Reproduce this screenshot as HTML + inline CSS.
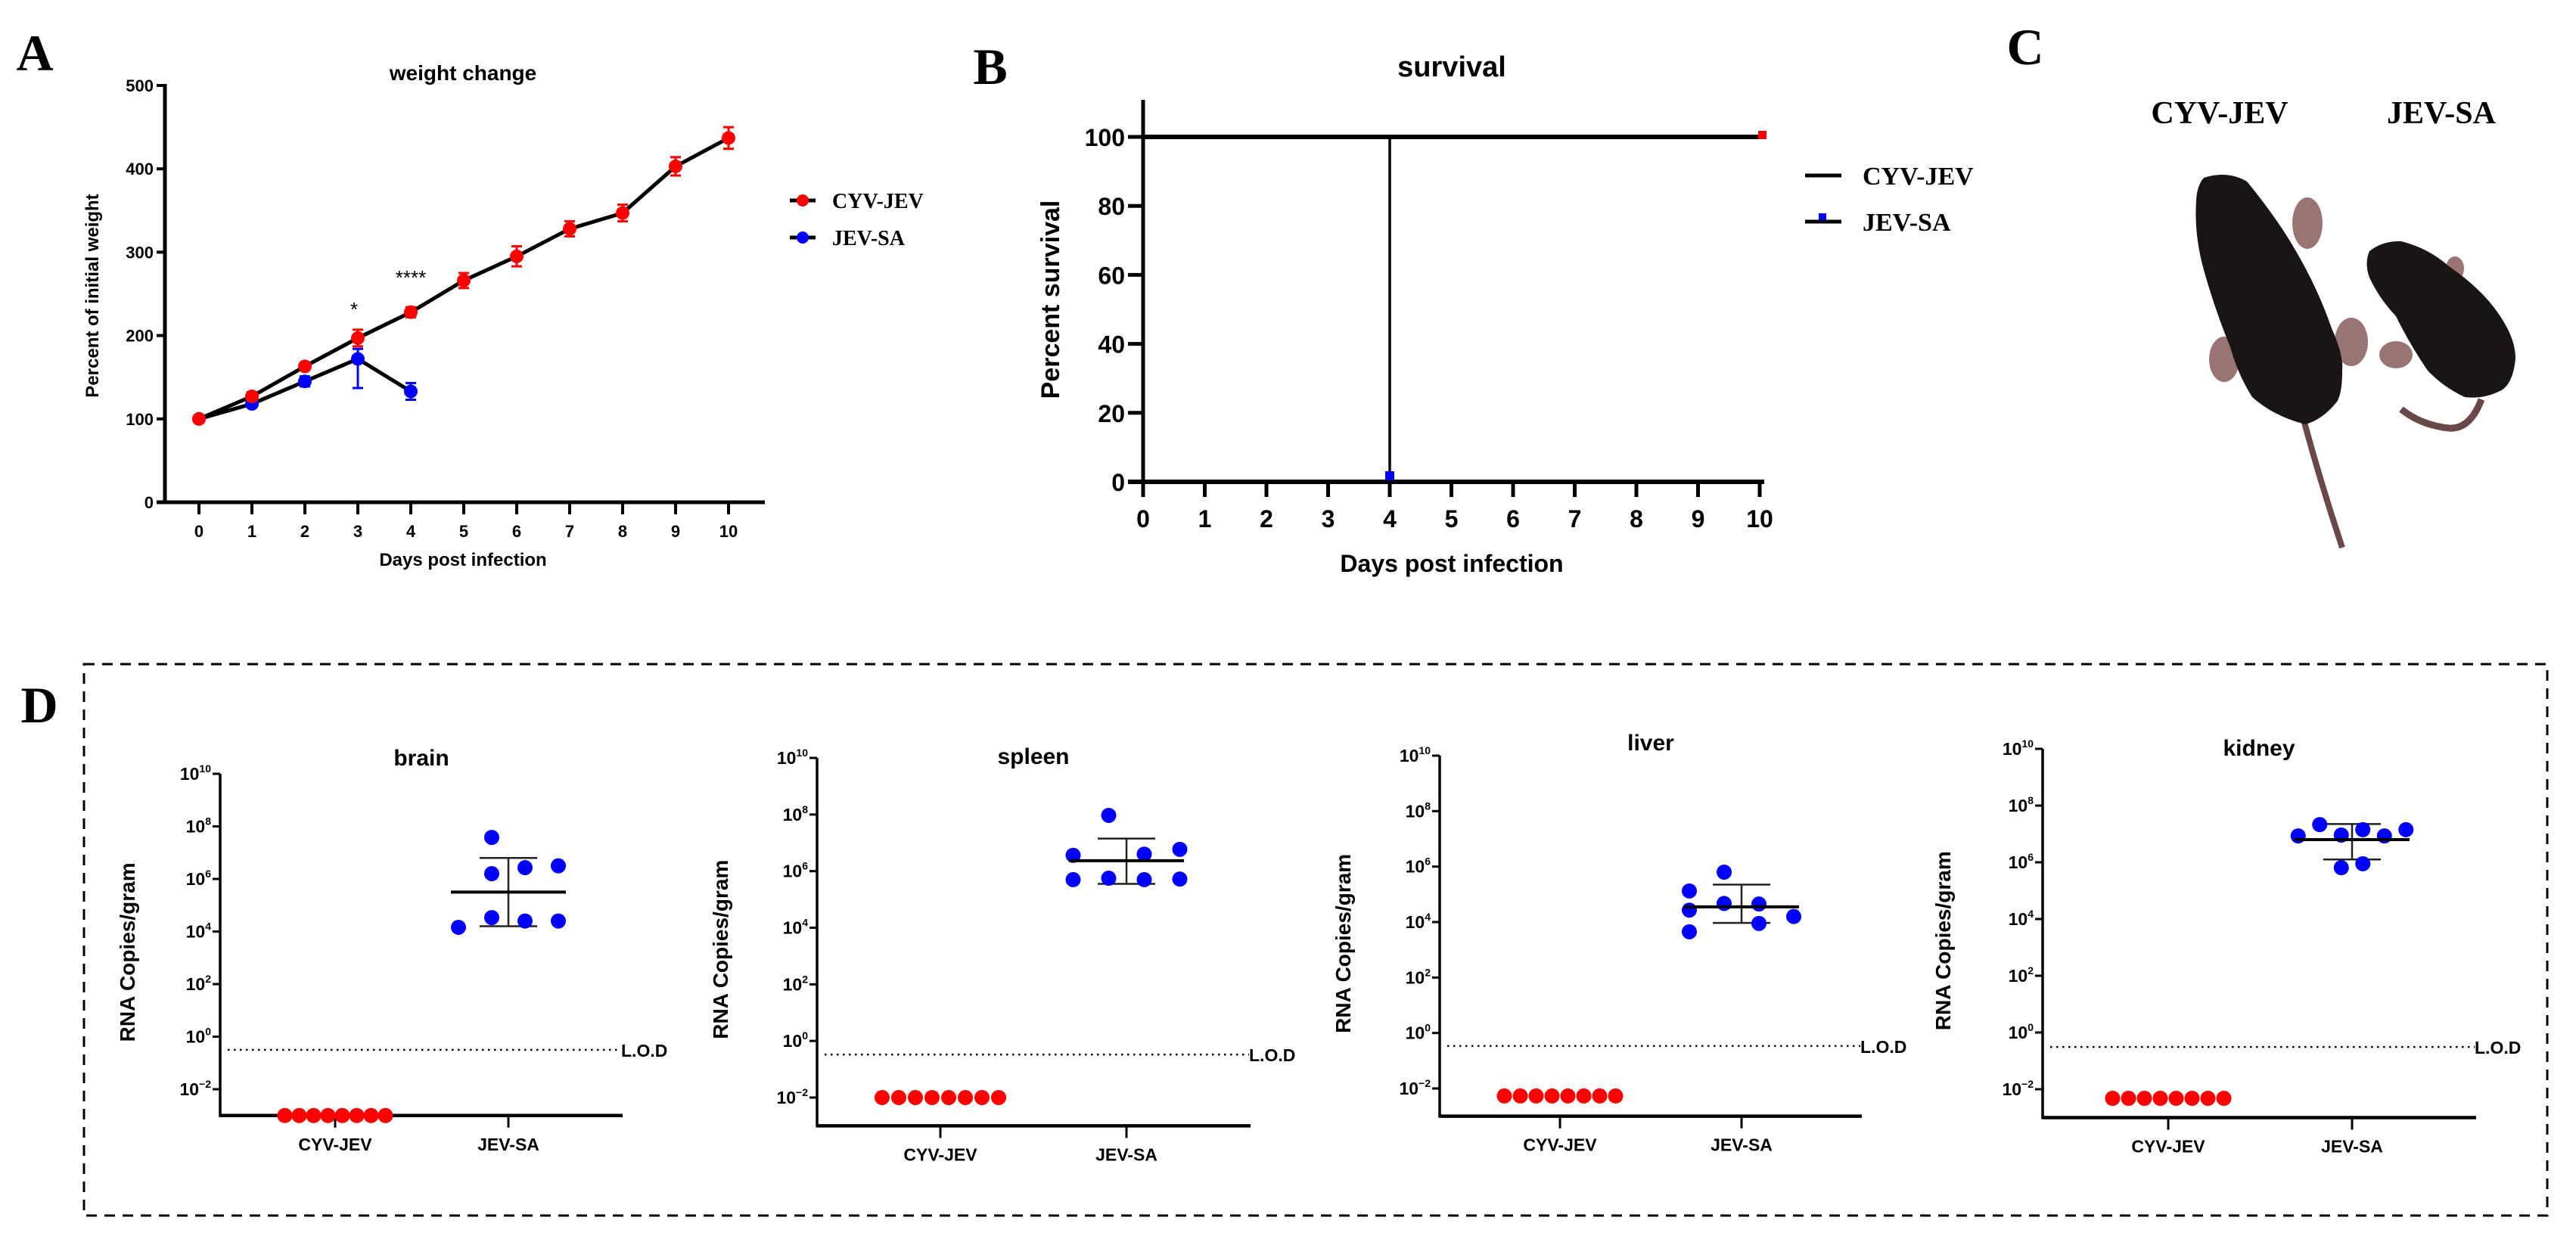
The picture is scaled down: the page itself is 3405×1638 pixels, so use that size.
<!DOCTYPE html>
<html><head><meta charset="utf-8"><style>
html,body{margin:0;padding:0;background:#fff}
svg{display:block}
text{font-family:"Liberation Sans",sans-serif}
.serif{font-family:"Liberation Serif",serif;font-weight:bold}
</style></head><body>
<svg id="fig" width="3405" height="1638" viewBox="0 0 3405 1638" xmlns="http://www.w3.org/2000/svg">
<rect width="3405" height="1638" fill="#fff"/>
<text class="serif" x="46" y="93" font-size="68" text-anchor="middle">A</text>
<text class="serif" x="1309" y="111" font-size="68" text-anchor="middle">B</text>
<text class="serif" x="2677" y="85" font-size="68" text-anchor="middle">C</text>
<text class="serif" x="52" y="955" font-size="68" text-anchor="middle">D</text>
<rect x="111" y="878" width="3256" height="729" fill="none" stroke="#000" stroke-width="3" stroke-dasharray="14,10"/>

<g>
<text class="serif" x="2934" y="163" font-size="42" text-anchor="middle">CYV-JEV</text>
<text class="serif" x="3227" y="163" font-size="42" text-anchor="middle">JEV-SA</text>
<path d="M3045,555 Q3068,640 3096,724" stroke="#6b4848" stroke-width="8" fill="none"/>
<ellipse cx="3050" cy="295" rx="20" ry="34" fill="#9a7474"/>
<ellipse cx="2940" cy="475" rx="20" ry="30" fill="#9a7474"/>
<ellipse cx="3108" cy="452" rx="22" ry="32" fill="#9a7474"/>
<path d="M2913,235 Q2945,225 2970,240 Q2995,270 3019,306 Q3060,370 3082,434 Q3098,470 3096,490 Q3096,520 3089,531 Q3070,555 3047,561 Q3005,550 2977,525 Q2958,495 2948,459 Q2928,410 2913,357 Q2900,310 2903,265 Q2904,245 2913,235Z" fill="#1a1514"/>
<path d="M3280,528 Q3265,568 3237,566 Q3200,562 3174,541" stroke="#6b4848" stroke-width="9" fill="none"/>
<ellipse cx="3167" cy="469" rx="22" ry="18" fill="#9a7474"/>
<ellipse cx="3245" cy="355" rx="12" ry="16" fill="#9a7474"/>
<path d="M3132,332 Q3150,318 3174,319 Q3210,328 3237,352 Q3285,385 3308,423 Q3325,450 3325,474 Q3322,505 3308,515 Q3285,528 3258,525 Q3230,512 3209,490 Q3185,455 3167,418 Q3145,395 3132,367 Q3125,348 3132,332Z" fill="#1a1514"/>
</g>
<g id="charts"></g>
</svg>
<script>
// ---- Panel A data ----
const weightDays = [0,1,2,3,4,5,6,7,8,9,10];
const cyvWeight = [100,127,163,197,228,266,295,328,347,403,437];
const cyvWeightErr = [4,5,4,10,6,9,12,9,10,11,13];
const jevDays = [0,1,2,3,4];
const jevWeight = [100,118,145,172,133];
const jevErrLo = [3,4,6,35,10];
const jevErrHi = [3,4,6,12,10];
const weightTicks = [0,100,200,300,400,500];
// ---- Panel B data ----
const survDaysTicks = [0,1,2,3,4,5,6,7,8,9,10];
const survTicks = [0,20,40,60,80,100];
const cyvSurvDays = [0,10];
const cyvSurv = [100,100];
const jevSurvDays = [0,4,4];
const jevSurv = [100,100,0];
// ---- Panel D data (log10 copies/gram) ----
const tissueNames = ["brain","spleen","liver","kidney"];
const logTicks = [-2,0,2,4,6,8,10];
const lodValues = [-0.5,-0.48,-0.47,-0.51];
const cyvLog = [-3,-2,-2.27,-2.32];
const brainJev = [7.58,6.2,6.43,6.5,4.16,4.53,4.4,4.4];
const brainCol = [1,1,2,3,0,1,2,3];
const spleenJev = [7.97,6.56,6.6,6.77,5.7,5.75,5.7,5.72];
const spleenCol = [1,0,2,3,0,1,2,3];
const liverJev = [5.8,5.12,4.43,4.67,4.65,3.95,4.2,3.65];
const liverCol = [1,0,0,1,2,2,3,0];
const kidneyJev = [6.93,7.33,6.96,7.15,6.93,7.15,5.81,5.95];
const kidneyCol = [0,1,2,3,4,5,2,3];
const jevMeans = [5.5,6.37,4.55,6.8];
const jevSdLo = [4.2,5.55,3.97,6.1];
const jevSdHi = [6.8,7.15,5.35,7.35];

const NS="http://www.w3.org/2000/svg";
const root=document.getElementById('charts');
function mk(tag,attrs,parent,txt){const e=document.createElementNS(NS,tag);for(const k in attrs)e.setAttribute(k,attrs[k]);if(txt!==undefined)e.textContent=txt;(parent||root).appendChild(e);return e;}

// ===== Panel A =====
(function(){
  const g=mk('g',{});
  
  
  const X=d=>263+d*70, Y=v=>664-v*1.102;
  let e;
  e=mk('text',{x:612,y:106,'font-size':28,'font-weight':'bold','text-anchor':'middle'},g,'weight change');
  
  
  e=mk('line',{x1:218,y1:Y(500)-2,x2:218,y2:666,stroke:'#000','stroke-width':5},g);
  
  
  e=mk('line',{x1:207,y1:664,x2:1011,y2:664,stroke:'#000','stroke-width':5},g);
  
  
  weightTicks.forEach(t=>{
    e=mk('line',{x1:207,y1:Y(t),x2:218,y2:Y(t),stroke:'#000','stroke-width':4},g);
    
    
    e=mk('text',{x:203,y:Y(t)+8,'font-size':22,'font-weight':'bold','text-anchor':'end'},g,String(t));
    
    
  });
  weightDays.forEach(d=>{
    e=mk('line',{x1:X(d),y1:664,x2:X(d),y2:680,stroke:'#000','stroke-width':4},g);
    
    
    e=mk('text',{x:X(d),y:710,'font-size':22,'font-weight':'bold','text-anchor':'middle'},g,String(d));
    
    
  });
  e=mk('text',{x:612,y:748,'font-size':24,'font-weight':'bold','text-anchor':'middle'},g,'Days post infection');
  
  
  e=mk('text',{x:0,y:0,'font-size':24,'font-weight':'bold','text-anchor':'middle',transform:'translate(130,391) rotate(-90)'},g,'Percent of initial weight');
  
  
  e=mk('polyline',{points:jevDays.map((d,i)=>X(d)+','+Y(jevWeight[i])).join(' '),fill:'none',stroke:'#000','stroke-width':5},g);
  
  
  e=mk('polyline',{points:weightDays.map((d,i)=>X(d)+','+Y(cyvWeight[i])).join(' '),fill:'none',stroke:'#000','stroke-width':5},g);
  
  
  jevDays.forEach((d,i)=>{
    const x=X(d),y1=Y(jevWeight[i]-jevErrLo[i]),y2=Y(jevWeight[i]+jevErrHi[i]);
    e=mk('path',{d:`M${x},${y1}V${y2}M${x-7},${y1}H${x+7}M${x-7},${y2}H${x+7}`,stroke:'#0000ff','stroke-width':3,fill:'none'},g);
    
    
    e=mk('circle',{cx:x,cy:Y(jevWeight[i]),r:9,fill:'#0000ff'},g);
    
    
  });
  weightDays.forEach((d,i)=>{
    const x=X(d),y1=Y(cyvWeight[i]-cyvWeightErr[i]),y2=Y(cyvWeight[i]+cyvWeightErr[i]);
    e=mk('path',{d:`M${x},${y1}V${y2}M${x-7},${y1}H${x+7}M${x-7},${y2}H${x+7}`,stroke:'#ff0000','stroke-width':3,fill:'none'},g);
    
    
    e=mk('circle',{cx:x,cy:Y(cyvWeight[i]),r:9,fill:'#ff0000'},g);
    
    
  });
  e=mk('text',{x:X(3)-5,y:418,'font-size':26,'text-anchor':'middle'},g,'*');
  
  
  e=mk('text',{x:X(4),y:376,'font-size':26,'text-anchor':'middle'},g,'****');
  
  
  [['CYV-JEV','#ff0000',265],['JEV-SA','#0000ff',314]].forEach(([n,c,y])=>{
    e=mk('line',{x1:1044,y1:y,x2:1078,y2:y,stroke:'#000','stroke-width':5},g);
    
    
    e=mk('circle',{cx:1061,cy:y,r:8,fill:c},g);
    
    
    e=mk('text',{x:1100,y:y+10,'font-size':28,class:'serif'},g,n);
    
    
  });
})();

// ===== Panel B =====
(function(){
  const g=mk('g',{});
  
  
  const X=d=>1511+d*81.5, Y=v=>637-v*4.56;
  let e;
  e=mk('text',{x:1919,y:101,'font-size':38,'font-weight':'bold','text-anchor':'middle'},g,'survival');
  
  
  e=mk('line',{x1:1511,y1:132,x2:1511,y2:639,stroke:'#000','stroke-width':5},g);
  
  
  e=mk('line',{x1:1491,y1:637,x2:2332,y2:637,stroke:'#000','stroke-width':6},g);
  
  
  survTicks.forEach(t=>{
    e=mk('line',{x1:1491,y1:Y(t),x2:1511,y2:Y(t),stroke:'#000','stroke-width':5},g);
    
    
    e=mk('text',{x:1487,y:Y(t)+12,'font-size':32,'font-weight':'bold','text-anchor':'end'},g,String(t));
    
    
  });
  survDaysTicks.forEach(d=>{
    e=mk('line',{x1:X(d),y1:637,x2:X(d),y2:657,stroke:'#000','stroke-width':5},g);
    
    
    e=mk('text',{x:X(d),y:697,'font-size':32,'font-weight':'bold','text-anchor':'middle'},g,String(d));
    
    
  });
  e=mk('text',{x:1919,y:756,'font-size':32,'font-weight':'bold','text-anchor':'middle'},g,'Days post infection');
  
  
  e=mk('text',{x:0,y:0,'font-size':34,'font-weight':'bold','text-anchor':'middle',transform:'translate(1400,396) rotate(-90)'},g,'Percent survival');
  
  
  e=mk('polyline',{points:cyvSurvDays.map((d,i)=>X(d)+','+Y(cyvSurv[i])).join(' '),fill:'none',stroke:'#000','stroke-width':6},g);
  
  
  e=mk('polyline',{points:jevSurvDays.map((d,i)=>X(d)+','+Y(jevSurv[i])).join(' '),fill:'none',stroke:'#000','stroke-width':3.5},g);
  
  
  const li=cyvSurvDays.length-1;
  e=mk('rect',{x:X(cyvSurvDays[li])-2,y:Y(cyvSurv[li])-8,width:11,height:11,fill:'#ff0000'},g);
  
  
  const lj=jevSurvDays.length-1;
  e=mk('rect',{x:X(jevSurvDays[lj])-6,y:Y(jevSurv[lj])-14,width:12,height:12,fill:'#0000ff'},g);
  
  
  [['CYV-JEV',232,false],['JEV-SA',293,true]].forEach(([n,y,sq])=>{
    e=mk('line',{x1:2386,y1:y,x2:2434,y2:y,stroke:'#000','stroke-width':5},g);
    
    
    if(sq){e=mk('rect',{x:2404,y:y-11,width:10,height:9,fill:'#0000ff'},g);
      
      }
    e=mk('text',{x:2462,y:y+12,'font-size':34,class:'serif'},g,n);
    
    
  });
})();

// ===== Panel D =====
const tissueJev=[brainJev,spleenJev,liverJev,kidneyJev];
const tissueCol=[brainCol,spleenCol,liverCol,kidneyCol];
const layouts=[
 {ax:291,y10:1023,ym2:1440,end:823,c1:443,c2:672,tx:557,ty:1002,yt:178,colW:44,nCol:4,rs:19},
 {ax:1080,y10:1002,ym2:1451,end:1653,c1:1243,c2:1489,tx:1366,ty:1000,yt:962,colW:47,nCol:4,rs:22},
 {ax:1903,y10:999,ym2:1439,end:2461,c1:2062,c2:2302,tx:2182,ty:982,yt:1785,colW:46,nCol:4,rs:21},
 {ax:2700,y10:990,ym2:1440,end:3273,c1:2866,c2:3109,tx:2986,ty:989,yt:2578,colW:28.5,nCol:6,rs:21}
];
layouts.forEach((L,k)=>{
  const g=mk('g',{});
  
  
  const Y=v=>L.ym2-(v+2)*(L.ym2-L.y10)/12;
  const axY=Y(-3);
  let e;
  e=mk('text',{x:L.tx,y:L.ty+10,'font-size':30,'font-weight':'bold','text-anchor':'middle'},g,tissueNames[k]);
  
  
  e=mk('line',{x1:L.ax,y1:L.y10,x2:L.ax,y2:axY+2,stroke:'#000','stroke-width':3.5},g);
  
  
  e=mk('line',{x1:L.ax,y1:axY,x2:L.end,y2:axY,stroke:'#000','stroke-width':4.5},g);
  
  
  logTicks.forEach(t=>{
    e=mk('line',{x1:L.ax-10,y1:Y(t),x2:L.ax,y2:Y(t),stroke:'#000','stroke-width':3},g);
    
    
    const tx=mk('text',{x:L.ax-12,y:Y(t)+8,'font-size':23,'font-weight':'bold','text-anchor':'end'},g);
    
    
    mk('tspan',{},tx,'10');
    mk('tspan',{dy:-10,'font-size':14},tx,t<0?'\u2212'+(-t):String(t));
  });
  [[L.c1,'CYV-JEV'],[L.c2,'JEV-SA']].forEach(([cx,n])=>{
    e=mk('line',{x1:cx,y1:axY,x2:cx,y2:axY+16,stroke:'#000','stroke-width':3},g);
    
    
    e=mk('text',{x:cx,y:axY+46,'font-size':23,'font-weight':'bold','text-anchor':'middle'},g,n);
    
    
  });
  e=mk('text',{x:0,y:0,'font-size':28,'font-weight':'bold','text-anchor':'middle',transform:`translate(${L.yt},${(L.y10+axY)/2+10}) rotate(-90)`},g,'RNA Copies/gram');
  
  
  const ly=Y(lodValues[k]);
  e=mk('line',{x1:L.ax+10,y1:ly,x2:L.end-2,y2:ly,stroke:'#000','stroke-width':2.5,'stroke-dasharray':'2.5,5.5'},g);
  
  
  e=mk('text',{x:L.end-2,y:ly+9,'font-size':23,'font-weight':'bold'},g,'L.O.D');
  
  
  for(let i=0;i<8;i++){
    e=mk('circle',{cx:L.c1+(i-3.5)*L.rs,cy:Y(cyvLog[k]),r:10,fill:'#ff0000'},g);
    
    
  }
  const m=Y(jevMeans[k]),lo=Y(jevSdLo[k]),hi=Y(jevSdHi[k]),c=L.c2;
  e=mk('path',{d:`M${c},${lo}V${hi}M${c-38},${lo}H${c+38}M${c-38},${hi}H${c+38}`,stroke:'#222','stroke-width':2.5,fill:'none'},g);
  
  
  tissueJev[k].forEach((v,i)=>{
    e=mk('circle',{cx:c+(tissueCol[k][i]-(L.nCol-1)/2)*L.colW,cy:Y(v),r:10,fill:'#0000ff'},g);
    
    
  });
  e=mk('line',{x1:c-76,y1:m,x2:c+76,y2:m,stroke:'#000','stroke-width':4},g);
  
  
});
</script>
</body></html>
